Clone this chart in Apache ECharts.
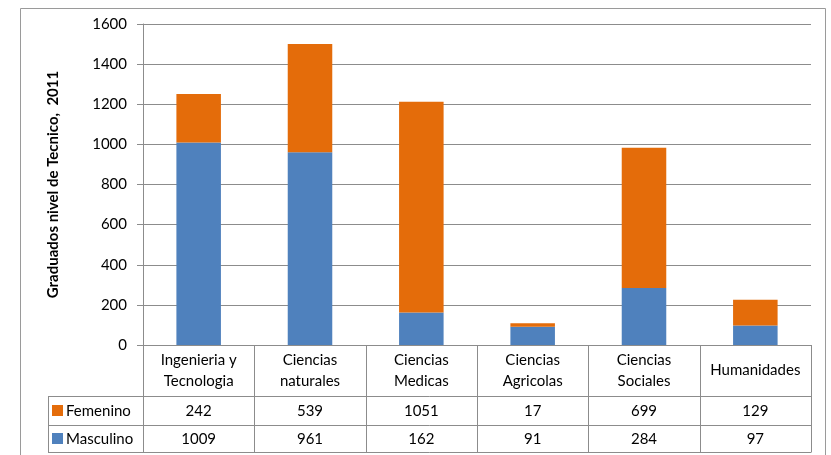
<!DOCTYPE html>
<html>
<head>
<meta charset="utf-8">
<script src="https://cdn.jsdelivr.net/npm/echarts@6/dist/echarts.min.js"></script>
<style>
  html, body { margin: 0; padding: 0; background: #fff; }
  #chart { width: 831px; height: 455px; }
</style>
</head>
<body>
<div id="chart"></div>
<script>
// data
const categories = ['Ingenieria y\nTecnologia', 'Ciencias\nnaturales', 'Ciencias\nMedicas', 'Ciencias\nAgricolas', 'Ciencias\nSociales', 'Humanidades'];
const femenino = [242, 539, 1051, 17, 699, 129];
const masculino = [1009, 961, 162, 91, 284, 97];
const yTicks = { min: 0, max: 1600, interval: 200 };

const FONT = 'Lato, "Open Sans", sans-serif';
const ORANGE = '#E46C0A';
const BLUE = '#4F81BD';
const LINE = '#8c8c8c';

const chart = echarts.init(document.getElementById('chart'), null, { renderer: 'canvas' });

const gridL = 143, gridR = 811, gridT = 24, gridB = 345;
const rowTop = 396, rowMid = 425, rowBot = 452, keyLeft = 48;

chart.setOption({
  animation: false,
  backgroundColor: '#fff',
  grid: { left: gridL, right: 831 - gridR, top: gridT, bottom: 455 - gridB },
  xAxis: {
    type: 'category',
    data: categories,
    axisLine: { lineStyle: { color: LINE } },
    axisTick: { show: false },
    axisLabel: { show: false }
  },
  yAxis: {
    type: 'value',
    min: yTicks.min, max: yTicks.max, interval: yTicks.interval,
    name: 'Graduados nivel de Tecnico,  2011',
    nameLocation: 'middle',
    nameGap: 82,
    nameTextStyle: { fontFamily: FONT, fontWeight: 'bold', fontSize: 15, color: '#000' },
    axisLine: { show: true, lineStyle: { color: LINE } },
    axisTick: { show: true, length: 6, lineStyle: { color: LINE } },
    axisLabel: { fontFamily: FONT, fontSize: 15, color: '#000', margin: 16, formatter: v => String(v) },
    splitLine: { lineStyle: { color: LINE } }
  },
  series: [
    {
      name: 'Masculino', type: 'bar', stack: 'g', data: masculino,
      barWidth: '40%', itemStyle: { color: BLUE }
    },
    {
      name: 'Femenino', type: 'bar', stack: 'g', data: femenino,
      barWidth: '40%', itemStyle: { color: ORANGE }
    }
  ]
});

// data table under the axis, built from the same arrays
function buildTable() {
  const g = [];
  const colW = (gridR - gridL) / categories.length;
  const lineStyle = { stroke: LINE, lineWidth: 1 };
  const line = (x1, y1, x2, y2) => ({ type: 'line', shape: { x1, y1, x2, y2 }, style: lineStyle, silent: true });

  // outer chart border
  g.push({ type: 'rect', shape: { x: 20.5, y: 8.5, width: 805, height: 460 }, style: { fill: null, stroke: '#9a9a9a', lineWidth: 1 }, z: -1 });

  // vertical dividers
  for (let i = 0; i <= categories.length; i++) {
    const x = Math.round(gridL + i * colW) + 0.5;
    g.push(line(x, gridB, x, rowBot));
  }
  g.push(line(keyLeft + 0.5, rowTop, keyLeft + 0.5, rowBot));
  [rowTop, rowMid, rowBot].forEach(y => g.push(line(keyLeft, y + 0.5, Math.round(gridR) + 0.5, y + 0.5)));

  const txt = (x, y, text, align) => ({
    type: 'text', x, y, silent: true,
    style: { text, fontFamily: FONT, fontSize: 15, fill: '#000', align: align || 'center', verticalAlign: 'middle', lineHeight: 21 }
  });

  categories.forEach((c, i) => {
    const cx = chart.convertToPixel({ xAxisIndex: 0 }, i);
    g.push(txt(cx, (gridB + rowTop) / 2, c));
    g.push(txt(cx, (rowTop + rowMid) / 2 + 1, String(femenino[i])));
    g.push(txt(cx, (rowMid + rowBot) / 2 + 1, String(masculino[i])));
  });

  // legend keys in the table
  [[ORANGE, 'Femenino', (rowTop + rowMid) / 2], [BLUE, 'Masculino', (rowMid + rowBot) / 2]].forEach(([col, name, cy]) => {
    g.push({ type: 'rect', shape: { x: 52, y: cy - 5.5, width: 11, height: 11 }, style: { fill: col }, silent: true });
    g.push(txt(66, cy + 1, name, 'left'));
  });
  return g;
}

chart.setOption({ graphic: buildTable() });
</script>
</body>
</html>
